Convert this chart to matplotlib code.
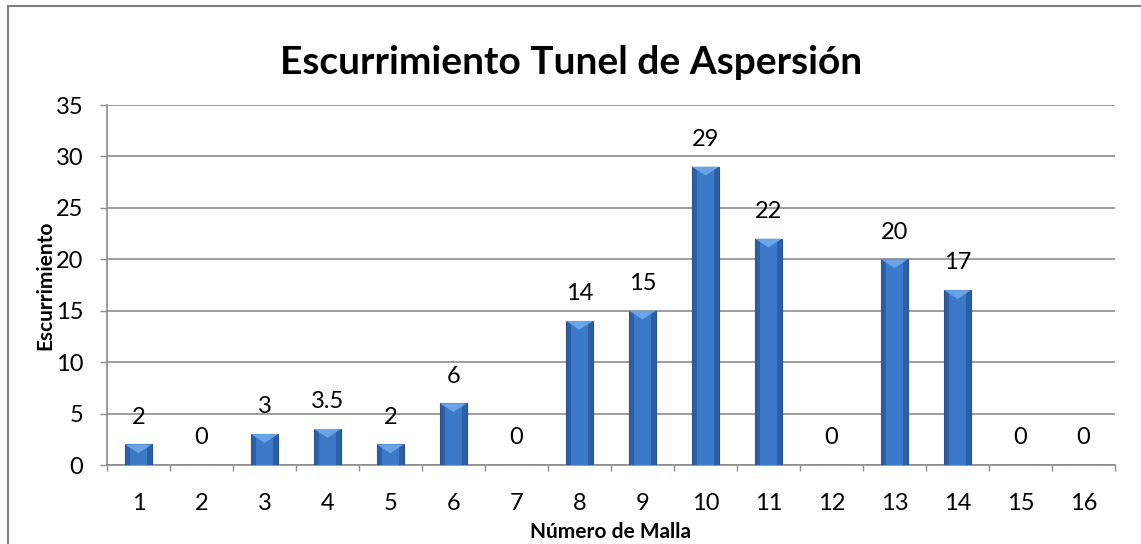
import matplotlib
matplotlib.use("Agg")
import matplotlib.pyplot as plt
import matplotlib.patches as mpatches
import numpy as np

# Data
mallas = ["1", "2", "3", "4", "5", "6", "7", "8", "9", "10", "11", "12", "13", "14", "15", "16"]
escurrimiento = [2, 0, 3, 3.5, 2, 6, 0, 14, 15, 29, 22, 0, 20, 17, 0, 0]
value_labels = ["2", "0", "3", "3.5", "2", "6", "0", "14", "15", "29", "22", "0", "20", "17", "0", "0"]

plt.rcParams["font.family"] = ["Lato", "DejaVu Sans"]

W, H = 1141, 544
fig = plt.figure(figsize=(W / 100, H / 100), dpi=100)
ax = fig.add_axes([107 / W, 79 / H, 1008 / W, 360 / H])

grey = "#8c8c8c"
x = np.arange(len(mallas))
vals = np.array(escurrimiento, dtype=float)
bw = 0.43

# bars: darker outer body with lighter centre strip
ax.bar(x, vals, width=bw, color="#2d5fa6", edgecolor="#29528f", linewidth=0.8, zorder=3)
ax.bar(x, vals, width=bw * 0.62, color="#3d79c9", linewidth=0, zorder=4)

# lighter bevel triangle on top of each bar
for xi, v in zip(x, vals):
    if v <= 0:
        continue
    d = min(0.85, v * 0.5)
    tri = mpatches.Polygon(
        [(xi - bw / 2, v), (xi + bw / 2, v), (xi, v - d)],
        closed=True, facecolor="#6aa3e6", edgecolor="none", zorder=5,
    )
    ax.add_patch(tri)

for xi, v, lab in zip(x, vals, value_labels):
    ax.annotate(lab, (xi, v), xytext=(0, 12), textcoords="offset points",
                ha="center", va="bottom", fontsize=17, color="black")

ax.set_xlim(-0.5, len(mallas) - 0.5)
ax.set_ylim(0, 35)
ax.set_yticks(np.arange(0, 36, 5))
ax.set_xticks(x)
ax.set_xticklabels(mallas)
ax.set_xticks(np.arange(-0.5, len(mallas), 1.0), minor=True)
ax.tick_params(axis="x", which="major", length=0, pad=20, labelsize=17)
ax.tick_params(axis="x", which="minor", length=4.5, color=grey, width=1)
ax.tick_params(axis="y", length=5, color=grey, width=1, labelsize=17, pad=12)

ax.grid(axis="y", color=grey, linewidth=1.2, zorder=0)
for side in ["top", "right"]:
    ax.spines[side].set_visible(False)
for side in ["left", "bottom"]:
    ax.spines[side].set_color(grey)
    ax.spines[side].set_linewidth(1.2)

ax.set_xlabel("Número de Malla", fontsize=15, fontweight="bold", labelpad=6)
ax.set_ylabel("Escurrimiento", fontsize=15, fontweight="bold", labelpad=0)

fig.text(571 / W, 1 - 63 / H, "Escurrimiento Tunel de Aspersión",
         ha="center", va="center", fontsize=28, fontweight="bold")

# outer chart border
fig.patches.append(mpatches.Rectangle((8 / W, -0.1), 1.2, 1 - 6.5 / H + 0.1,
                                      transform=fig.transFigure, fill=False,
                                      edgecolor="#7f7f7f", linewidth=1.5))

fig.savefig("out.png", dpi=100)
